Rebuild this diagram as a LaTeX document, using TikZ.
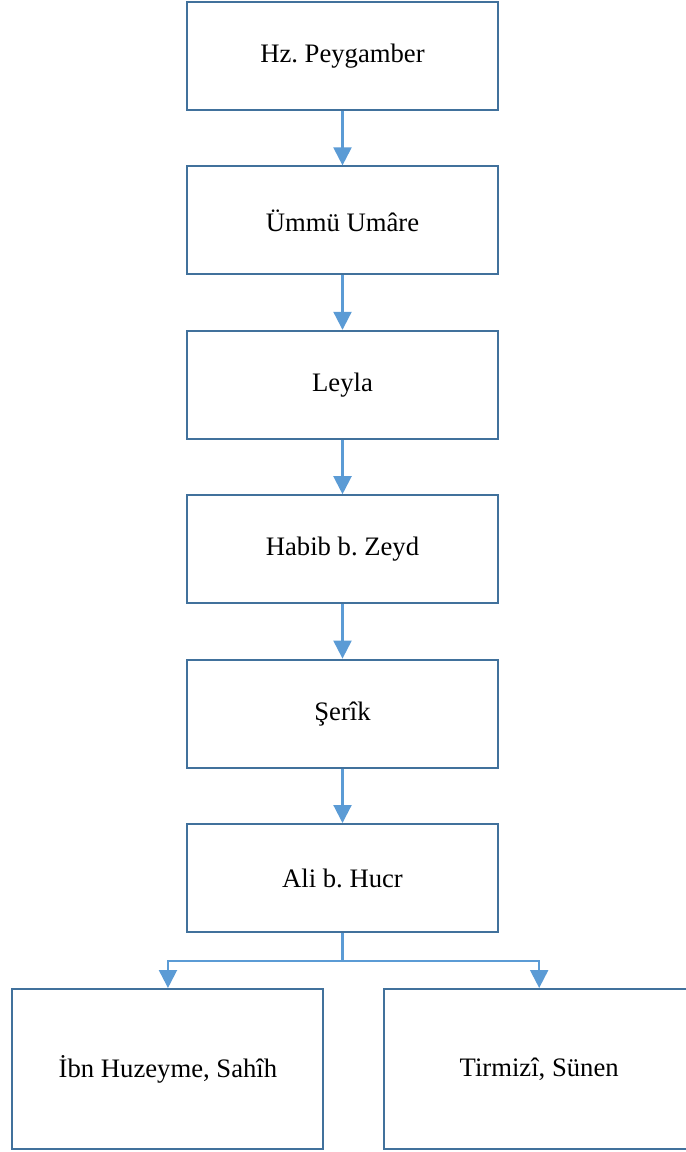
\documentclass[tikz,border=0pt]{standalone}
\usepackage{fontspec}
\setmainfont{Liberation Serif}
\usetikzlibrary{positioning,arrows.meta}

\definecolor{boxline}{HTML}{41719C}
\definecolor{arrowline}{HTML}{5B9BD5}

\frenchspacing
\begin{document}
\begin{tikzpicture}[
    arrowstyle/.style={draw=arrowline, line width=1.6pt, -{Triangle[width=13.5pt,length=13.5pt]}},
    linkstyle/.style={draw=arrowline, line width=1.6pt},
    narrator/.style={rectangle, draw=boxline, line width=1.5pt, minimum width=233.25pt,
        minimum height=81pt, align=center, font=\fontsize{20pt}{24pt}\selectfont},
    source/.style={narrator, minimum height=120pt},
    node distance=40.8pt
]
\useasboundingbox (0,0) rectangle (513.75pt,-864pt);

\node (Peygamber) [narrator] at (256.875pt,-42pt) {Hz. Peygamber};
\node (Umare) [narrator, below=of Peygamber] {Ümmü Umâre};
\node (Leyla) [narrator, below=of Umare] {Leyla};
\node (Habib) [narrator, below=of Leyla] {Habib b. Zeyd};
\node (Serik) [narrator, below=of Habib] {Şerîk};
\node (Ali) [narrator, below=of Serik] {Ali b. Hucr};

\node (Ibn) [source, below=41.25pt of Ali, xshift=-130.9pt] {İbn Huzeyme, Sahîh};
\node (Tirmizi) [source, below=41.25pt of Ali, xshift=147.5pt] {Tirmizî, Sünen};

\draw[arrowstyle] (Peygamber) -- (Umare);
\draw[arrowstyle] (Umare) -- (Leyla);
\draw[arrowstyle] (Leyla) -- (Habib);
\draw[arrowstyle] (Habib) -- (Serik);
\draw[arrowstyle] (Serik) -- (Ali);

\draw[linkstyle] (Ali.south) -- ++(0,-21pt) coordinate (Fork);
\draw[arrowstyle] (Fork) -| (Ibn.north);
\draw[arrowstyle] (Fork) -| (Tirmizi.north);

\end{tikzpicture}
\end{document}
